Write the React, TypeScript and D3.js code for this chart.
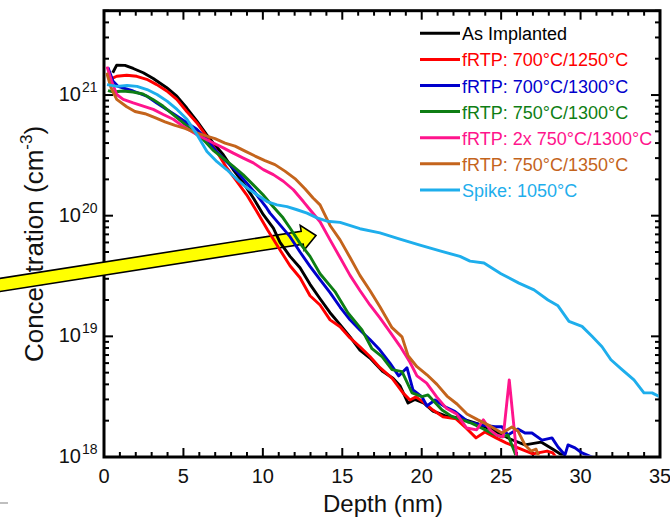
import React from "react";
import * as d3 from "d3";

type Pt = [number, number];

// depth (nm), concentration (cm^-3)
const asImplanted: Pt[] = [
  [0.55, 1.53e21], [0.8, 1.77e21], [1.32, 1.76e21], [1.84, 1.66e21], [2.47, 1.53e21], [3.1, 1.37e21],
  [3.95, 1.15e21], [4.58, 9.8e20], [5.21, 7.8e20], [5.84, 6.1e20], [6.46, 4.7e20], [6.88, 4.0e20],
  [7.51, 3.2e20], [8.14, 2.4e20], [8.77, 1.87e20], [9.4, 1.4e20], [10.03, 1.02e20], [10.66, 7.9e19],
  [11.08, 6.0e19], [11.71, 4.6e19], [12.34, 3.7e19], [12.97, 2.7e19], [13.6, 2.05e19], [14.23, 1.57e19],
  [14.86, 1.25e19], [15.49, 9.9e18], [16.11, 7.7e18], [16.74, 6.6e18], [17.56, 5.1e18], [18.19, 4.5e18],
  [18.63, 3.9e18], [19.14, 2.8e18], [19.57, 3.0e18], [20.14, 2.8e18], [20.71, 2.4e18], [21.47, 2.2e18],
  [22.41, 2.1e18], [23.54, 1.88e18], [24.61, 1.64e18], [25.56, 1.41e18], [26.5, 1.26e18], [27.51, 1.33e18],
  [28.26, 1.16e18], [29.02, 1.0e18], [29.4, 0.9e18],
];

const frtp700_1250: Pt[] = [
  [0.38, 1.35e21], [0.8, 1.43e21], [1.43, 1.46e21], [2.06, 1.43e21], [2.69, 1.35e21], [3.32, 1.22e21],
  [3.95, 1.08e21], [4.58, 9.2e20], [5.21, 7.3e20], [5.84, 5.9e20], [6.46, 4.55e20], [7.09, 3.4e20],
  [7.72, 2.5e20], [8.35, 1.93e20], [8.98, 1.49e20], [9.61, 1.09e20], [10.3, 7.6e19], [11.08, 5.2e19],
  [11.71, 3.85e19], [12.34, 3.06e19], [12.97, 2.17e19], [13.6, 1.82e19], [14.23, 1.37e19], [14.86, 1.2e19],
  [15.49, 9.7e18], [16.11, 8.2e18], [16.74, 6.8e18], [17.37, 5.5e18], [18.13, 4.5e18], [18.82, 3.4e18],
  [19.26, 2.97e18], [19.64, 3.15e18], [20.08, 2.86e18], [20.71, 2.45e18], [21.34, 2.15e18], [22.16, 2.07e18],
  [22.79, 1.74e18], [23.42, 1.44e18], [23.98, 1.61e18], [24.68, 1.44e18], [25.31, 1.31e18], [26.06, 1.19e18],
  [27.0, 1.06e18], [27.89, 1.12e18], [28.26, 1.08e18], [28.58, 0.94e18],
];

const frtp700_1300: Pt[] = [
  [0.25, 1.69e21], [0.57, 1.3e21], [0.88, 1.18e21], [1.83, 1.08e21], [2.69, 9.8e20], [3.32, 8.6e20],
  [3.95, 7.6e20], [4.58, 6.7e20], [5.21, 5.9e20], [5.84, 5.2e20], [6.46, 4.3e20], [7.09, 3.4e20],
  [7.72, 2.8e20], [8.35, 2.33e20], [8.98, 1.87e20], [9.61, 1.49e20], [10.24, 1.16e20], [10.45, 1.05e20],
  [11.08, 8.4e19], [11.71, 6.7e19], [12.34, 5.0e19], [12.97, 3.8e19], [13.6, 2.95e19], [14.23, 2.3e19],
  [14.86, 1.75e19], [15.49, 1.37e19], [16.11, 1.13e19], [16.74, 9.4e18], [17.37, 7.7e18], [18.0, 6.0e18],
  [18.55, 4.7e18], [19.07, 5.5e18], [19.45, 3.6e18], [20.02, 3.15e18], [20.33, 2.65e18], [20.84, 2.97e18],
  [21.47, 2.61e18], [22.1, 2.38e18], [22.91, 1.96e18], [23.79, 1.84e18], [24.61, 1.78e18], [25.05, 1.78e18],
  [25.43, 1.52e18], [26.06, 1.71e18], [26.5, 1.58e18], [26.94, 1.58e18], [27.57, 1.38e18], [28.2, 1.44e18],
  [28.58, 1.21e18], [29.02, 1.04e18], [29.21, 1.26e18], [29.65, 1.19e18], [30.09, 1.08e18], [30.72, 1.0e18],
  [31.2, 0.9e18],
];

const frtp750_1300: Pt[] = [
  [0.25, 1.09e21], [0.57, 1.06e21], [1.2, 1.08e21], [1.83, 1.06e21], [2.45, 1.02e21], [3.08, 9.2e20],
  [3.71, 8.1e20], [4.34, 6.9e20], [4.97, 5.9e20], [5.6, 5.0e20], [6.23, 4.3e20], [6.86, 3.5e20],
  [7.49, 3.0e20], [8.12, 2.57e20], [8.75, 2.19e20], [9.38, 1.81e20], [10.01, 1.49e20], [10.64, 1.19e20],
  [11.27, 9.6e19], [11.71, 7.9e19], [12.34, 5.9e19], [12.97, 4.6e19], [13.6, 3.3e19], [14.54, 2.35e19],
  [15.36, 1.56e19], [16.24, 1.13e19], [16.87, 7.9e18], [17.5, 6.8e18], [18.13, 5.3e18], [18.76, 5.1e18],
  [19.39, 3.4e18], [20.02, 3.17e18], [20.4, 3.27e18], [21.28, 2.45e18], [21.91, 2.16e18], [22.54, 2.03e18],
  [23.17, 1.9e18], [23.79, 1.73e18], [24.42, 1.57e18], [25.05, 1.47e18], [25.43, 1.52e18], [25.87, 1.08e18],
  [26.0, 0.94e18],
];

const frtp2x750_1300: Pt[] = [
  [0.19, 1.72e21], [0.48, 1.3e21], [0.8, 1.01e21], [1.21, 9.2e20], [1.84, 8.6e20], [2.47, 8.1e20],
  [3.1, 7.6e20], [3.73, 6.9e20], [4.36, 6.3e20], [4.99, 5.5e20], [5.62, 4.9e20], [6.25, 4.4e20],
  [6.88, 4.0e20], [7.51, 3.65e20], [8.14, 3.3e20], [8.77, 3.0e20], [9.4, 2.74e20], [10.03, 2.41e20],
  [10.66, 2.19e20], [11.29, 1.93e20], [11.92, 1.64e20], [12.55, 1.31e20], [12.97, 1.12e20], [13.6, 8.9e19],
  [14.23, 6.3e19], [14.86, 4.5e19], [15.49, 3.2e19], [16.11, 2.4e19], [16.74, 1.82e19], [17.37, 1.42e19],
  [18.0, 1.09e19], [18.63, 8.3e18], [19.26, 6.1e18], [19.7, 4.7e18], [20.31, 4.1e18], [20.94, 3.15e18],
  [21.57, 2.52e18], [22.2, 2.27e18], [22.83, 1.74e18], [23.46, 1.68e18], [23.88, 2.03e18], [24.3, 1.68e18],
  [24.72, 1.52e18], [25.13, 1.47e18], [25.51, 4.35e18], [25.87, 1.47e18], [26.0, 0.9e18],
];

const frtp750_1350: Pt[] = [
  [0.17, 1.53e21], [0.44, 1.15e21], [0.8, 9.2e20], [1.43, 8.0e20], [1.95, 7.3e20], [2.58, 7.0e20],
  [3.21, 6.5e20], [3.84, 6.0e20], [4.47, 5.6e20], [5.1, 5.3e20], [5.73, 4.9e20], [6.36, 4.6e20],
  [6.99, 4.35e20], [7.62, 4.0e20], [8.25, 3.77e20], [8.88, 3.43e20], [9.51, 3.12e20], [10.13, 2.86e20],
  [10.76, 2.65e20], [11.39, 2.34e20], [12.02, 2.03e20], [12.65, 1.67e20], [13.16, 1.4e20], [13.6, 1.23e20],
  [14.23, 8.3e19], [14.86, 6.3e19], [15.49, 4.5e19], [16.11, 3.2e19], [16.74, 2.4e19], [17.37, 1.76e19],
  [18.13, 1.18e19], [18.76, 9.9e18], [19.14, 6.9e18], [19.7, 5.6e18], [20.33, 4.8e18], [20.96, 4.0e18],
  [21.59, 3.2e18], [22.22, 2.75e18], [22.85, 2.27e18], [23.54, 2.03e18], [24.3, 1.81e18], [25.05, 1.58e18],
  [25.68, 1.77e18], [26.06, 1.64e18], [26.5, 1.26e18], [26.88, 1.12e18], [27.2, 1.16e18], [27.45, 0.94e18],
];

const spike1050: Pt[] = [
  [0.19, 1.22e21], [0.82, 1.18e21], [1.45, 1.2e21], [2.08, 1.18e21], [2.71, 1.11e21], [3.34, 1.01e21],
  [3.97, 8.9e20], [4.6, 7.6e20], [5.22, 6.3e20], [5.85, 4.7e20], [6.48, 3.4e20], [7.11, 2.8e20],
  [7.74, 2.4e20], [8.37, 2.0e20], [9.0, 1.7e20], [9.63, 1.49e20], [10.26, 1.31e20], [10.89, 1.23e20],
  [11.52, 1.19e20], [12.15, 1.12e20], [12.78, 1.05e20], [13.41, 9.6e19], [14.04, 9.0e19], [14.86, 8.8e19],
  [16.11, 7.8e19], [17.37, 7.2e19], [18.63, 6.4e19], [19.89, 5.7e19], [21.15, 5.1e19], [22.41, 4.6e19],
  [23.04, 4.2e19], [23.92, 4.05e19], [24.99, 3.3e19], [26.12, 2.76e19], [27.07, 2.43e19], [27.95, 2.0e19],
  [28.58, 1.79e19], [29.27, 1.33e19], [30.09, 1.21e19], [30.72, 1.0e19], [31.35, 8.2e18], [31.91, 6.4e18],
  [32.61, 5.3e18], [33.36, 4.35e18], [33.99, 3.4e18], [34.5, 3.4e18], [35.0, 3.15e18],
];

const seriesData = [asImplanted, frtp700_1250, frtp700_1300, frtp750_1300, frtp2x750_1300, frtp750_1350, spike1050];
const seriesLabels = [
  "As Implanted",
  "fRTP: 700°C/1250°C",
  "fRTP: 700°C/1300°C",
  "fRTP: 750°C/1300°C",
  "fRTP: 2x 750°C/1300°C",
  "fRTP: 750°C/1350°C",
  "Spike: 1050°C",
];
const seriesColors = ["#000000", "#ff0000", "#0000cc", "#0e7e14", "#ff148c", "#c4641c", "#1eaeec"];

const xTicks = [0, 5, 10, 15, 20, 25, 30, 35];
const yExponents = [18, 19, 20, 21];

const font = "'Liberation Sans', Arial, sans-serif";
const W = 670;
const H = 523;
const left = 104, right = 660, top = 10.7, bottom = 457;

export default function App() {
  const x = d3.scaleLinear().domain([0, 35]).range([left, right]);
  const y = d3.scaleLog().domain([1e18, 5e21]).range([bottom, top]);

  const line = d3.line<Pt>().x(d => x(d[0])).y(d => y(d[1]));

  const minorX = d3.range(0, 36, 1);
  const yTickVals = y.ticks();
  const isMajorY = (v: number) => Math.abs(Math.log10(v) - Math.round(Math.log10(v))) < 1e-6;

  // arrow geometry (annotation)
  const tail = [-10, 286.5], tip = [316, 235.5];
  const len = Math.hypot(tip[0] - tail[0], tip[1] - tail[1]);
  const u = [(tip[0] - tail[0]) / len, (tip[1] - tail[1]) / len];
  const n = [-u[1], u[0]];
  const base = [tip[0] - u[0] * 14, tip[1] - u[1] * 14];
  const pt = (p: number[], k: number) => `${p[0] + n[0] * k},${p[1] + n[1] * k}`;
  const arrowPts = [pt(tail, 6.5), pt(base, 6.5), pt(base, 12.5), `${tip[0]},${tip[1]}`, pt(base, -12.5), pt(base, -6.5), pt(tail, -6.5)].join(" ");

  return (
    <svg width={W} height={H} style={{ position: "absolute", left: 0, top: 0, background: "#fff" }} fontFamily={font}>
      <defs>
        <clipPath id="plot">
          <rect x={left + 1.5} y={top + 1.5} width={right - left - 3} height={bottom - top - 3} />
        </clipPath>
      </defs>
      <rect width={W} height={H} fill="#fff" />

      {/* y label */}
      <text transform="translate(43,244) rotate(-90)" textAnchor="middle" fontSize={26} fill="#111">
        Concentration (cm<tspan fontSize={17} dy={-11}>-3</tspan><tspan dy={11}>)</tspan>
      </text>

      {/* x label */}
      <text x={383} y={512} textAnchor="middle" fontSize={24} fill="#111">Depth (nm)</text>

      {/* frame */}
      <rect x={left} y={top} width={right - left} height={bottom - top} fill="none" stroke="#000" strokeWidth={3} />

      {/* x ticks */}
      {minorX.map(v => {
        const len = v % 5 === 0 ? 9 : 5;
        return (
          <g key={"xt" + v} stroke="#000" strokeWidth={2}>
            <line x1={x(v)} x2={x(v)} y1={bottom} y2={bottom - len} />
            <line x1={x(v)} x2={x(v)} y1={top} y2={top + len} />
          </g>
        );
      })}
      {xTicks.map(v => (
        <text key={"xl" + v} x={x(v)} y={483} textAnchor="middle" fontSize={20} fill="#111">{v}</text>
      ))}

      {/* y ticks */}
      {yTickVals.map((v, i) => {
        const len = isMajorY(v) ? 9 : 5;
        return (
          <g key={"yt" + i} stroke="#000" strokeWidth={2}>
            <line x1={left} x2={left + len} y1={y(v)} y2={y(v)} />
            <line x1={right} x2={right - len} y1={y(v)} y2={y(v)} />
          </g>
        );
      })}
      {yExponents.map(e => (
        <g key={"yl" + e} fill="#111">
          <text x={81} y={y(Math.pow(10, e)) + 6} textAnchor="end" fontSize={20}>10</text>
          <text x={82} y={y(Math.pow(10, e)) - 3} fontSize={14}>{e}</text>
        </g>
      ))}

      {/* annotation arrow */}
      <polygon points={arrowPts} fill="#ffff00" stroke="#000" strokeWidth={1.6} strokeLinejoin="miter" />
      <line x1={0} x2={8} y1={503} y2={503} stroke="#aaa" strokeWidth={1.5} />

      {/* curves */}
      <g clipPath="url(#plot)" fill="none" strokeWidth={2.9} strokeLinejoin="round">
        {seriesData.map((s, i) => (
          <path key={"s" + i} d={line(s) || ""} stroke={seriesColors[i]} />
        ))}
      </g>

      {/* legend */}
      {seriesLabels.map((lab, i) => {
        const cy = 33.3 + i * 26.1;
        return (
          <g key={"lg" + i}>
            <line x1={420} x2={460} y1={cy} y2={cy} stroke={seriesColors[i]} strokeWidth={3} />
            <text x={462} y={cy + 7} fontSize={18} fill={seriesColors[i]}>{lab}</text>
          </g>
        );
      })}
    </svg>
  );
}
